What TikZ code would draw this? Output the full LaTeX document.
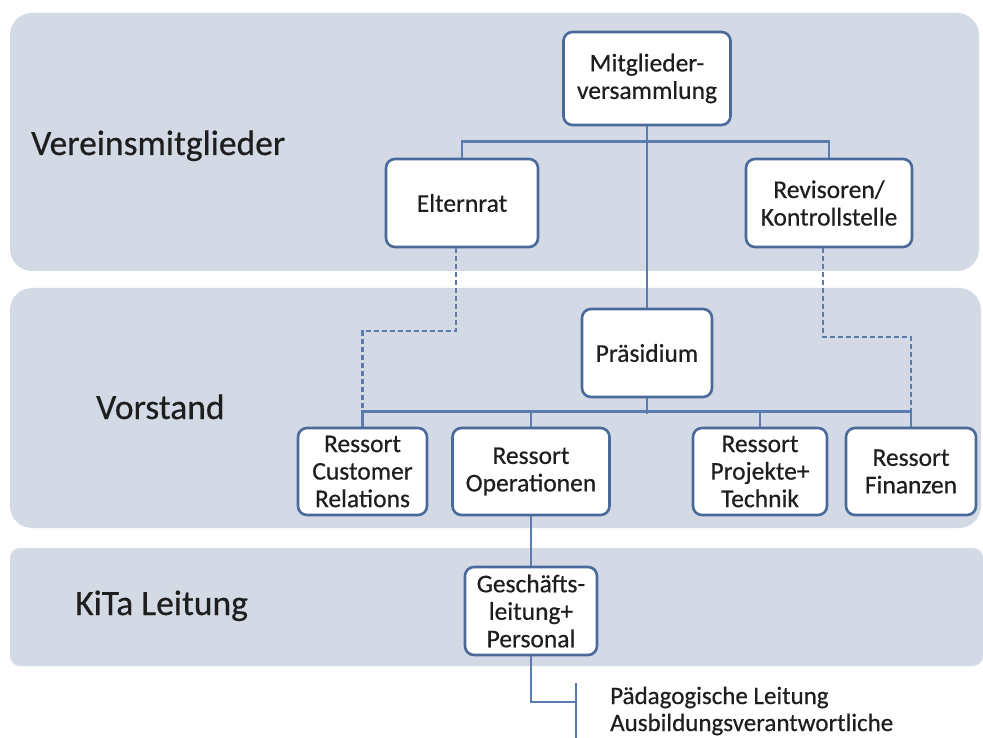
\documentclass[tikz,border=0pt]{standalone}
\usepackage{fontspec}
\setmainfont{Carlito}[FakeBold=0.5]
\definecolor{bandc}{HTML}{D3DAE6}
\definecolor{boxc}{HTML}{4A6A9A}
\definecolor{linec}{HTML}{5A7CB0}
\definecolor{txt}{HTML}{1E1E1E}
\newcommand\bxfont{\fontsize{25.5}{27.5}\selectfont}
\newcommand\lbfont{\fontsize{35.5}{40}\selectfont}
\newcommand\sbfont{\fontsize{25}{30}\selectfont}
\begin{document}
\begin{tikzpicture}[x=1pt,y=-1pt,
  band/.style={fill=bandc},
  box/.style={draw=boxc, line width=2.6pt, fill=white, rounded corners=9pt, align=center, font=\bxfont, inner sep=1pt, text=txt},
  conn/.style={draw=linec, line width=2.6pt},
  dconn/.style={conn, line width=2.2pt, dash pattern=on 5pt off 3pt},
  lbl/.style={font=\lbfont, text=txt, anchor=base west, inner sep=0pt},
  sub/.style={font=\sbfont, text=txt, anchor=base west, inner sep=0pt}]
\useasboundingbox (0,0) rectangle (983,738);
% bands
\fill[band, rounded corners=22pt] (10,13) rectangle (979,271);
\fill[band, rounded corners=22pt] (10,288) rectangle (981,528);
\fill[band, rounded corners=10pt] (10,548) rectangle (983,666);
% labels
\node[lbl] (l1) at (31,155) {Vereinsmitglieder};
\node[lbl] (l2) at (96,419) {Vorstand};
\node[lbl] (l3) at (75,615) {KiTa Leitung};
% nodes
\node[box, minimum width=167pt, minimum height=93pt] (mv) at (647,78.5) {Mitglieder-\\versammlung};
\node[box, minimum width=152pt, minimum height=88pt] (er) at (462,203) {Elternrat};
\node[box, minimum width=166pt, minimum height=88pt] (rv) at (829,203) {Revisoren/\\Kontrollstelle};
\node[box, minimum width=130pt, minimum height=88pt] (pr) at (647,353) {Präsidium};
\node[box, minimum width=129pt, minimum height=87pt] (cr) at (362.5,471.5) {Ressort\\Customer\\Relations};
\node[box, minimum width=157pt, minimum height=87pt] (op) at (531,471.5) {Ressort\\Operationen};
\node[box, minimum width=134pt, minimum height=87pt] (pt) at (760,471.5) {Ressort\\Projekte+\\Technik};
\node[box, minimum width=130pt, minimum height=87pt] (fi) at (911,471.5) {Ressort\\Finanzen};
\node[box, minimum width=132pt, minimum height=88pt] (gl) at (531,611) {Geschäfts-\\leitung+\\Personal};
% solid connectors
\draw[conn] (mv.south) -- (pr.north);
\draw[conn] (er.north) -- ++(0,-16) -| (rv.north);
\draw[conn] (pr.south) -- ++(0,16);
\draw[conn] (cr.north) -- ++(0,-15) -| (fi.north);
\draw[conn] (op.north) -- ++(0,-15);
\draw[conn] (pt.north) -- ++(0,-15);
\draw[conn] (op.south) -- (gl.north);
% dashed connectors
\draw[dconn] ([xshift=-6pt]er.south) -- ++(0,83) -| ([yshift=15pt]cr.north);
\draw[dconn] ([xshift=-6pt]rv.south) -- ++(0,89) -| ([yshift=15pt]fi.north);
% bottom branch
\coordinate (tee) at (576,702);
\coordinate (vt) at (576,683);
\coordinate (vb) at (576,742);
\draw[conn] (gl.south) |- (tee);
\draw[conn] (vt) -- (vb);
\node[sub] (p1) at (610,704) {Pädagogische Leitung};
\node[sub] (p2) at (610,731) {Ausbildungsverantwortliche};
\end{tikzpicture}
\end{document}
